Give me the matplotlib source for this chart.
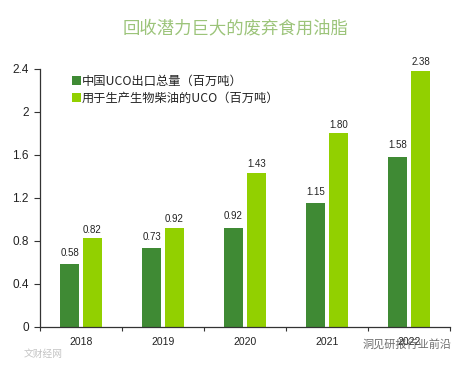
import matplotlib
matplotlib.use("Agg")
import matplotlib.pyplot as plt
import numpy as np

plt.rcParams['font.family'] = ['Noto Sans CJK SC', 'DejaVu Sans']

years = ['2018', '2019', '2020', '2021', '2022']
export_total = [0.58, 0.73, 0.92, 1.15, 1.58]
biofuel_use = [0.82, 0.92, 1.43, 1.80, 2.38]
yticks = [0, 0.4, 0.8, 1.2, 1.6, 2, 2.4]
ytick_labels = ['0', '0.4', '0.8', '1.2', '1.6', '2', '2.4']
title = '回收潜力巨大的废弃食用油脂'
legend_labels = ['中国UCO出口总量（百万吨）', '用于生产生物柴油的UCO（百万吨）']
watermark_right = '洞见研报行业前沿'
watermark_left = '文财经网'

W, H = 466, 365
fig = plt.figure(figsize=(W/100, H/100), dpi=100)
L, R, T, B = 40, 450, 68.5, 326.5
ax = fig.add_axes([L/W, 1-B/H, (R-L)/W, (B-T)/H])

x = np.arange(len(years))
dark, light = '#3f8a34', '#92d000'
ax.bar(x-0.14, export_total, 0.225, color=dark, label=legend_labels[0])
ax.bar(x+0.14, biofuel_use, 0.225, color=light, label=legend_labels[1])

for xi, v in zip(x-0.14, export_total):
    ax.annotate(f'{v:.2f}', (xi, v), xytext=(0, 4.5), textcoords='offset points',
                ha='center', va='bottom', fontsize=7, color='#222222', family='Liberation Sans')
for xi, v in zip(x+0.14, biofuel_use):
    ax.annotate(f'{v:.2f}', (xi, v), xytext=(0, 2.5), textcoords='offset points',
                ha='center', va='bottom', fontsize=7, color='#222222', family='Liberation Sans')

ax.set_xlim(-0.5, 4.5)
ax.set_ylim(0, 2.4)
ax.set_yticks(yticks)
ax.set_yticklabels(ytick_labels, fontsize=8.5, color='#222222', family='Liberation Sans')
ax.set_xticks(np.arange(-0.5, 5, 1))
ax.set_xticklabels([])
ax.set_xticks(x, minor=True)
ax.set_xticklabels(years, minor=True, fontsize=7.5, color='#222222', family='Liberation Sans')
ax.tick_params(axis='x', which='minor', length=0, pad=7.5)
ax.tick_params(axis='x', which='major', length=3, width=0.8, direction='out', color='#333333')
ax.tick_params(axis='y', length=4, width=0.8, direction='out', color='#333333', pad=4)
for s in ['top', 'right']:
    ax.spines[s].set_visible(False)
for s in ['left', 'bottom']:
    ax.spines[s].set_color('#333333')
    ax.spines[s].set_linewidth(0.9)

fig.text(236/W, 1-28/H, title, ha='center', va='center', fontsize=12.5, color='#9cc47a')

leg = ax.legend(loc='upper left', bbox_to_anchor=(72/W, 1-75/H), bbox_transform=fig.transFigure,
                frameon=False, fontsize=8.8, labelspacing=0.33, handlelength=0.7, handleheight=0.7,
                handletextpad=0.1, borderpad=0, borderaxespad=0, labelcolor='#222222')

fig.text(452/W, 1-344/H, watermark_right, ha='right', va='center', fontsize=8, color='#555555', alpha=0.85)
fig.text(24/W, 1-354/H, watermark_left, ha='left', va='center', fontsize=7, color='#c4c4c4')

fig.savefig('out.png', dpi=100, facecolor='white')
